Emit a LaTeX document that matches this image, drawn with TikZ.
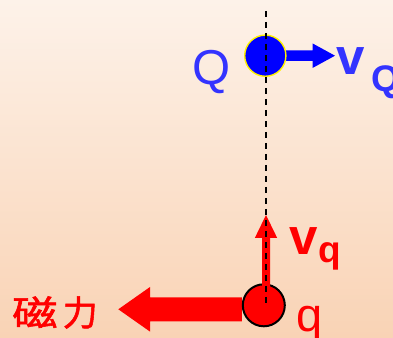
\documentclass[tikz,border=0pt]{standalone}
\usepackage{fontspec}
\setmainfont{Liberation Sans}
\newfontfamily\cjkfont[FakeBold=1.5]{Noto Sans CJK SC}
\definecolor{bgtop}{RGB}{253,242,233}
\definecolor{bgbot}{RGB}{249,211,181}
\definecolor{Qfill}{RGB}{0,0,255}
\definecolor{Qtext}{RGB}{51,51,255}
\definecolor{qred}{RGB}{255,0,0}
\begin{document}
\begin{tikzpicture}[x=1pt,y=1pt,
  lbl/.style={inner sep=0pt, outer sep=0pt, anchor=base west},
  ball/.style={circle, inner sep=0pt, outer sep=0pt},
  axisline/.style={draw=black, line width=1.6pt, dash pattern=on 6pt off 5pt}]
\shade[top color=bgtop, bottom color=bgbot] (0,0) rectangle (393,337);
\useasboundingbox (0,0) rectangle (393,337);
% Q ball and its velocity arrow
\coordinate (Qo) at (265.3,281.3);
\fill[Qfill] ([yshift=5.2pt]Qo) -- ++(47.4,0) -- ++(0,7) -- ++(22.3,-12.2) -- ++(-22.3,-12.2) -- ++(0,7) -- ++(-47.4,0) -- cycle;
\node[ball, fill=Qfill, draw=yellow, line width=1.4pt, minimum size=41.2pt] (Qc) at (Qo) {};
% q ball, magnetic force arrow and velocity arrow
\coordinate (qo) at (263.8,31.7);
\fill[qred] ([yshift=8pt]qo) ++(-22,0) -- ++(-91.8,0) -- ++(0,10.3) -- ++(-31.7,-22.3) -- ++(31.7,-22.3) -- ++(0,10.3) -- ++(91.8,0) -- cycle;
\node[ball, fill=qred, draw=black, line width=2pt, minimum size=42pt] (qc) at (qo) {};
\fill[qred] ([xshift=-1.8pt]qc.center) -- ++(0,67.3) -- ++(-7.2,0) -- ++(11.2,23) -- ++(11.2,-23) -- ++(-7.2,0) -- ++(0,-67.3) -- cycle;
% dashed axis
\coordinate (dtop) at (266,326);
\draw[axisline] (dtop) -- (dtop |- qc.center);
% labels
\node[lbl, text=Qtext, font=\fontsize{49}{49}\selectfont] (Qlab) at (192.5,252) {Q};
\node[lbl, text=Qtext, font=\bfseries\fontsize{51}{51}\selectfont] (vQ) at (336,262) {v};
\node[lbl, text=Qtext, font=\bfseries\fontsize{37}{37}\selectfont] (vQsub) at (371.5,245) {Q};
\node[lbl, text=qred, font=\bfseries\fontsize{51}{51}\selectfont] (vq) at (289.5,82) {v};
\node[lbl, text=qred, font=\bfseries\fontsize{37}{37}\selectfont] (vqsub) at (318.5,74) {q};
\node[lbl, text=qred, font=\fontsize{47}{47}\selectfont] (qlab) at (296,6) {q};
\node[inner sep=0pt, anchor=west, text=qred, font=\cjkfont\fontsize{35}{35}\selectfont] (force) at (12,24.5) {\scalebox{1.3}[1]{磁}\hspace{5pt}力};
\end{tikzpicture}
\end{document}
